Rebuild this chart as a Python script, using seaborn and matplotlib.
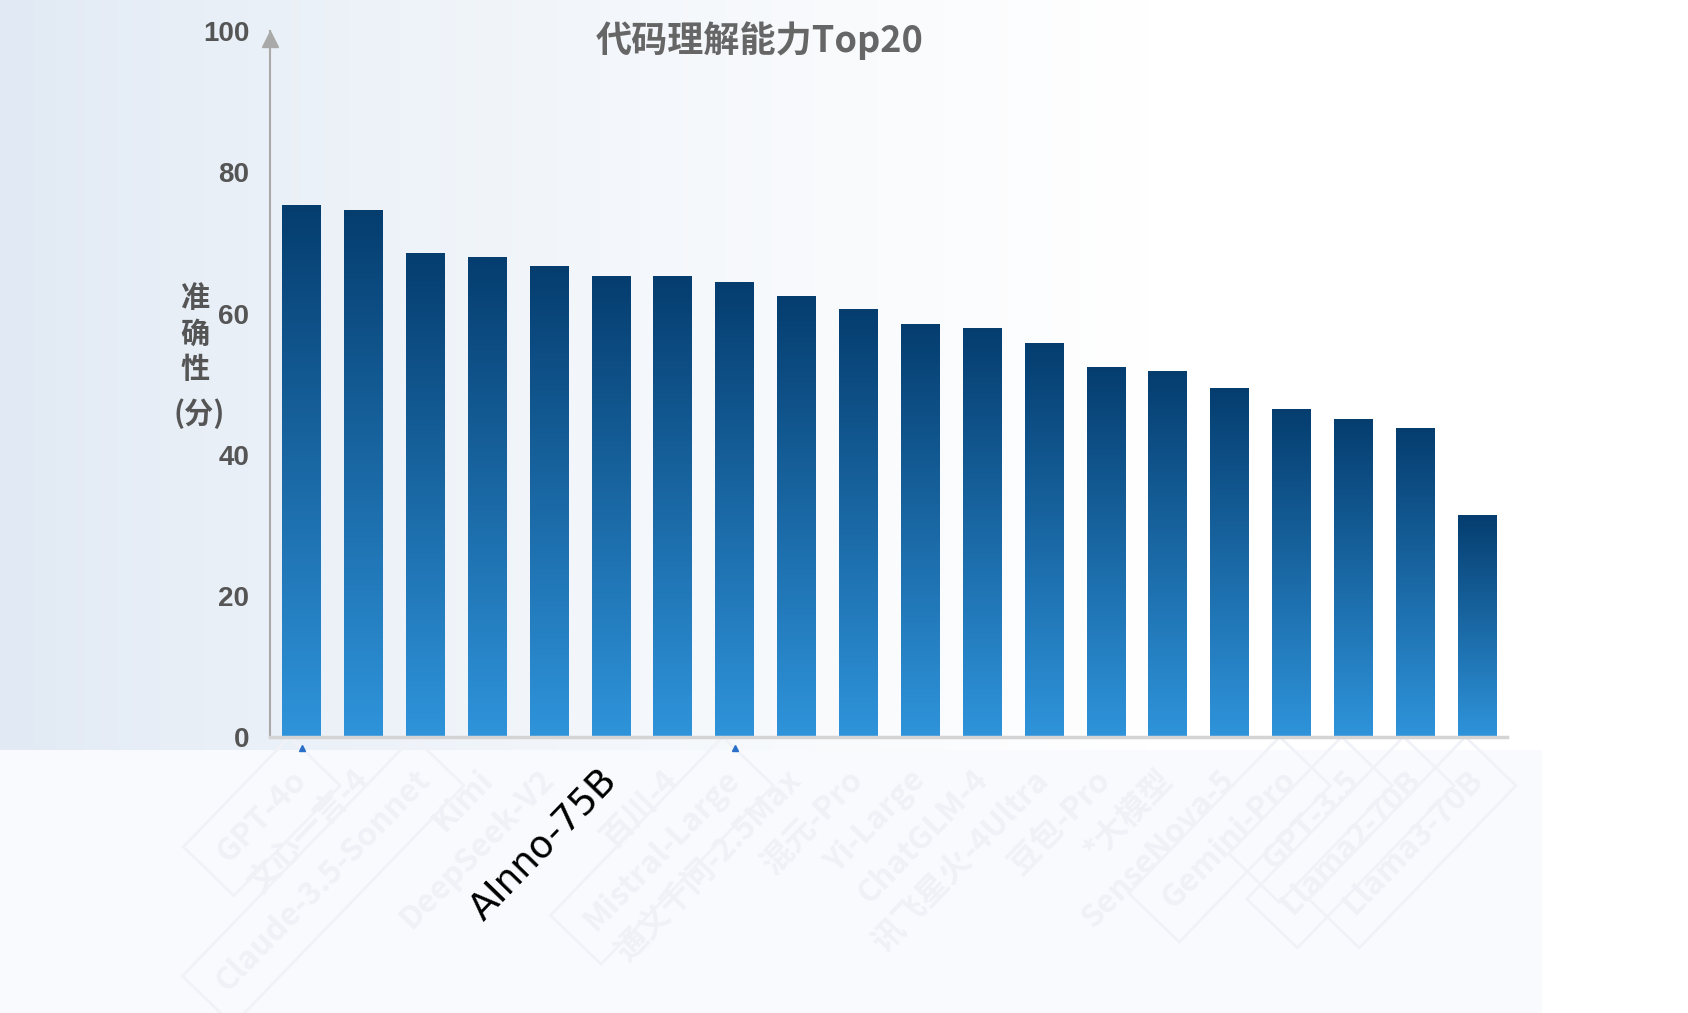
import numpy as np
import pandas as pd
import matplotlib
matplotlib.use('Agg')
import matplotlib.pyplot as plt
import matplotlib.transforms as mtransforms
from matplotlib.patches import Rectangle
import seaborn as sns

models = ["GPT-4o", "文心一言-4", "Claude-3.5-Sonnet", "Kimi", "DeepSeek-V2",
          "AInno-75B", "百川-4", "Mistral-Large", "通义千问-2.5Max", "混元-Pro",
          "Yi-Large", "ChatGLM-4", "讯飞星火-4Ultra", "豆包-Pro", "*大模型",
          "SenseNova-5", "Gemini-Pro", "GPT-3.5", "Llama2-70B", "Llama3-70B"]
scores = [75.3, 74.5, 68.5, 67.9, 66.6, 65.2, 65.2, 64.4, 62.4, 60.5,
          58.4, 57.8, 55.7, 52.3, 51.7, 49.3, 46.3, 44.9, 43.6, 31.4]
boxed = ["GPT-4o", "Claude-3.5-Sonnet", "Mistral-Large", "Gemini-Pro",
         "GPT-3.5", "Llama2-70B", "Llama3-70B"]
marked = ["GPT-4o", "Mistral-Large"]
highlight = "AInno-75B"
yticks = [0, 20, 40, 60, 80, 100]
ylabel_parts = ["准", "确", "性", "(分)"]
title = "代码理解能力Top20"

df = pd.DataFrame({"model": models, "score": scores})

sns.set_style("white")
plt.rcParams['font.family'] = ['Noto Sans CJK SC', 'DejaVu Sans']

fig = plt.figure(figsize=(16.88, 10.13), dpi=100)
fig.patch.set_facecolor('white')

# background: light blue wash on the left of the upper part, pale panel below
bg = fig.add_axes([0, 0, 1, 1], zorder=0)
bg.axis('off')
t = np.linspace(0, 1, 400)
blend = np.clip(t / 0.68, 0, 1) ** 0.75
left_c = np.array([224, 233, 244]) / 255
img = left_c[None, :] * (1 - blend[:, None]) + blend[:, None]
bg.imshow(img[None, :, :], extent=[0, 1, 0.26, 1], aspect='auto')
bg.add_patch(Rectangle((0, 0), 1542 / 1688, 0.26, color='#f9fafd', lw=0))
bg.set_xlim(0, 1)
bg.set_ylim(0, 1)

ax = fig.add_axes([0.16, 0.272, 0.7328, 0.6974], zorder=1)
ax.patch.set_alpha(0)
sns.barplot(data=df, x="model", y="score", ax=ax, width=0.63,
            color='#1565a8', saturation=1)

# vertical gradient inside every bar
top_c = np.array([5, 61, 111]) / 255
bot_c = np.array([47, 148, 219]) / 255
s = np.linspace(0, 1, 256)[:, None]
bar_grad = (top_c * (1 - s) + bot_c * s)[:, None, :]
for p in ax.patches:
    x0, w, h = p.get_x(), p.get_width(), p.get_height()
    ax.imshow(bar_grad, extent=[x0, x0 + w, 0, h], aspect='auto',
              zorder=2, interpolation='bilinear')
    p.set_visible(False)

ax.set_xlim(-0.51, 19.48)
ax.set_ylim(0, 100)
ax.set_xlabel('')
ax.set_ylabel('')

for side in ['top', 'right']:
    ax.spines[side].set_visible(False)
ax.spines['left'].set_color('#a9a9a9')
ax.spines['left'].set_linewidth(1.5)
ax.spines['bottom'].set_color('#d4d4d4')
ax.spines['bottom'].set_linewidth(2.5)
ax.plot(0, 98.8, marker='^', ms=11, color='#a9a9a9',
        transform=ax.get_yaxis_transform(), clip_on=False)

ax.set_yticks(yticks)
ax.set_yticklabels([str(v) for v in yticks], fontsize=20, fontweight='bold',
                   color='#555555',
                   family=['Liberation Sans Narrow', 'Liberation Sans'])
ax.tick_params(axis='y', length=0, pad=15)

ax.set_xticks(range(len(models)))
ax.set_xticklabels(models, rotation=46, ha='right', va='center',
                   rotation_mode='anchor')
ax.tick_params(axis='x', length=0, pad=27)
for lab in ax.get_xticklabels():
    txt = lab.get_text()
    if txt == highlight:
        lab.set_color('black')
        lab.set_fontsize(27)
        lab.set_fontweight('normal')
        lab.set_family('DejaVu Sans')
    else:
        lab.set_color('#eff1f7')
        lab.set_fontsize(23)
        lab.set_fontweight('bold')
        if txt in boxed:
            lab.set_bbox(dict(boxstyle='square,pad=0.6', fc='none',
                              ec='#f0f2f8', lw=2))

for m in marked:
    ax.plot(models.index(m), -1.5, marker='^', ms=5, color='#2a6fc9',
            clip_on=False)

# stacked vertical y label
trans = mtransforms.blended_transform_factory(ax.transAxes, ax.transData)
ylab_y = [62.2, 57.1, 52.2, 45.8]
ylab_x = [-0.061, -0.061, -0.061, -0.057]
for part, xx, yy in zip(ylabel_parts, ylab_x, ylab_y):
    ax.text(xx, yy, part, transform=trans, ha='center', va='center',
            fontsize=21, fontweight='bold', color='#555555')

fig.text(0.45, 0.96, title, ha='center', va='center', fontsize=26,
         fontweight='bold', color='#666666')

fig.savefig('out.png', dpi=100)
